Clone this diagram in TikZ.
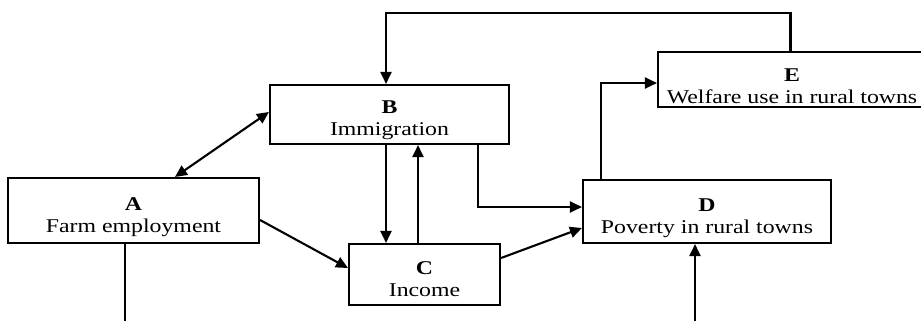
\documentclass[tikz,border=0pt]{standalone}
\usepackage{fontspec}
\setmainfont{Liberation Serif}[FakeStretch=1.22]
\usetikzlibrary{arrows.meta,calc}
\begin{document}
\begin{tikzpicture}[x=1pt,y=-1pt,
  box/.style={draw,line width=2.1pt,inner sep=0pt},
  txt/.style={inner sep=0pt,align=center,font=\fontsize{19.5}{22}\selectfont},
  arr/.style={line width=2.1pt,-{Triangle[length=12pt,width=11pt]}},
  darr/.style={line width=2.1pt,{Triangle[length=12pt,width=11pt]}-{Triangle[length=12pt,width=11pt]}},
  ln/.style={line width=2.1pt}]
\useasboundingbox (0,0) rectangle (921,321);
\node[box,minimum width=251pt,minimum height=65pt] (A) at (133.5,210.5) {};
\node[box,minimum width=239pt,minimum height=59pt] (B) at (389.5,114.5) {};
\node[box,minimum width=151pt,minimum height=61pt] (C) at (424.5,274.5) {};
\node[box,minimum width=248pt,minimum height=63pt] (D) at (707,211.5) {};
\node[box,minimum width=268pt,minimum height=55pt] (E) at (792,79.5) {};
\node[txt] (At) at ([yshift=-7pt]A.center) {\textbf{A}\\Farm employment};
\node[txt] (Bt) at ([yshift=-6pt]B.center) {\textbf{B}\\Immigration};
\node[txt] (Ct) at ([yshift=-4.5pt]C.center) {\textbf{C}\\Income};
\node[txt] (Dt) at ([yshift=-6.5pt]D.center) {\textbf{D}\\Poverty in rural towns};
\node[txt] (Et) at ([yshift=-6.5pt]E.center) {\textbf{E}\\Welfare use in rural towns};
\coordinate (fb) at (600,13);
\coordinate (a0) at (125,321);
\coordinate (d0) at (695,321);
\draw[darr] ([xshift=41.5pt]A.north) -- ([yshift=2.5pt]B.west);
\draw[arr] ([yshift=-9.5pt]A.east) -- ([yshift=6.5pt]C.west);
\draw[arr] ([xshift=-3.5pt]B.south) -- ([xshift=-3.5pt]B.south |- C.north);
\draw[arr] ([xshift=-6.5pt]C.north) -- ([xshift=-6.5pt]C.north |- B.south);
\draw[arr] ([xshift=88.5pt]B.south) |- ([yshift=4.5pt]D.west);
\draw[arr] ([yshift=16.5pt]C.east) -- ([yshift=-16.5pt]D.west);
\draw[arr] ([xshift=-106pt]D.north) |- ([yshift=-3.5pt]E.west);
\draw[arr] ([xshift=-1.5pt]E.north) |- (fb) -| ([xshift=-3.5pt]B.north);
\draw[ln] ([xshift=-8.5pt]A.south) -- (a0);
\draw[arr] (d0) -- ([xshift=-12pt]D.south);
\end{tikzpicture}
\end{document}
